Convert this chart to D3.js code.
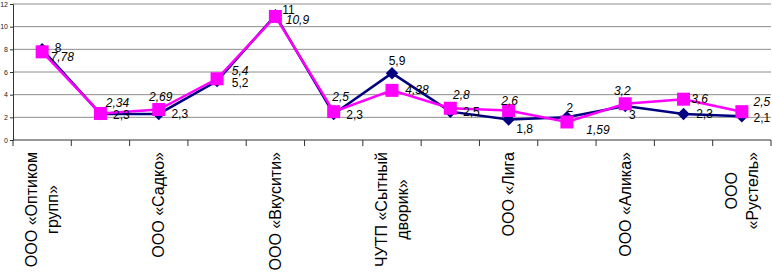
<!DOCTYPE html>
<html>
<head>
<meta charset="utf-8">
<script src="https://cdn.jsdelivr.net/npm/d3@7"></script>
<style>
body { margin: 0; background: #fff; }
svg { display: block; font-family: "Liberation Sans", Arial, sans-serif; }
</style>
</head>
<body>
<div id="chart"></div>
<script>
// company names, only every other one is printed on the axis
const categories = [
	["ООО «Оптиком", "групп»"], [],
	["ООО «Садко»"], [],
	["ООО «Вкусити»"], [],
	["ЧУТП «Сытный", "дворик»"], [],
	["ООО «Лига"], [],
	["ООО «Алика»"], [],
	["ООО", "«Рустель»"]
];
const series1 = [8, 2.3, 2.3, 5.2, 11, 2.3, 5.9, 2.5, 1.8, 2, 3, 2.3, 2.1];
const series2 = [7.78, 2.34, 2.69, 5.4, 10.9, 2.5, 4.38, 2.8, 2.6, 1.59, 3.2, 3.6, 2.5];
const yTicks = [0, 2, 4, 6, 8, 10, 12];

// label offsets (dx, dy of text centre from the point)
const pos1 = [[16,-1],[21,1],[21,0],[23,2],[13,-5],[21,1],[5,-12],[21,0],[16,9],[3,-9],[7,9],[21,0],[20,2]];
const pos2 = [[20,5],[17,-10],[2,-13],[23,-8],[22,4],[7,-15],[25,0],[11,-13],[1,-10],[31,8],[-3,-13],[16,0],[20,-10]];

const width = 772, height = 276;
const margin = {top: 4, right: 1, bottom: 136, left: 13};

const svg = d3.select("#chart").append("svg")
	.attr("width", width).attr("height", height);

const x = d3.scaleBand().domain(d3.range(categories.length))
	.range([margin.left, width - margin.right]);
const y = d3.scaleLinear().domain([0, 12])
	.range([height - margin.bottom, margin.top]);

// gridlines
svg.append("g").selectAll("line")
	.data(yTicks.filter(d => d > 0))
	.join("line")
	.attr("x1", margin.left).attr("x2", width - margin.right)
	.attr("y1", d => y(d)).attr("y2", d => y(d))
	.attr("stroke", "#8c8c8c").attr("stroke-width", 1);

// y axis
const yAxis = svg.append("g")
	.attr("transform", `translate(${margin.left},0)`)
	.call(d3.axisLeft(y).tickValues(yTicks).tickSize(3).tickPadding(2));
yAxis.select(".domain").attr("stroke", "#333");
yAxis.selectAll(".tick line").attr("stroke", "#333");
yAxis.selectAll("text").attr("font-size", 7).attr("fill", "#222")
	.attr("font-family", "Liberation Sans, Arial, sans-serif");

// x axis with ticks at category boundaries
const bounds = d3.range(categories.length + 1).map(i => margin.left + i * x.bandwidth());
svg.append("line")
	.attr("x1", margin.left).attr("x2", width - margin.right)
	.attr("y1", y(0)).attr("y2", y(0))
	.attr("stroke", "#333");
svg.append("g").selectAll("line")
	.data(bounds)
	.join("line")
	.attr("x1", d => d).attr("x2", d => d)
	.attr("y1", y(0)).attr("y2", y(0) + 6)
	.attr("stroke", "#333");

// category labels, rotated; block top-aligned, lines centred in it
const cx = i => x(i) + x.bandwidth() / 2;
const lab = svg.append("g").selectAll("text")
	.data(categories.map((c, i) => ({c, i})).filter(d => d.c.length))
	.join("text")
	.attr("transform", d => `translate(${cx(d.i)},${y(0) + 12}) rotate(-90)`)
	.attr("text-anchor", "middle")
	.attr("font-size", 16)
	.attr("fill", "#000");
lab.selectAll("tspan")
	.data(d => d.c.map((t, k) => ({t, k, n: d.c.length})))
	.join("tspan")
	.attr("y", d => 5.6 + (d.k - (d.n - 1) / 2) * 21)
	.text(d => d.t);
lab.each(function() {
	const spans = d3.select(this).selectAll("tspan");
	const maxLen = d3.max(spans.nodes(), n => n.getComputedTextLength());
	spans.attr("x", -maxLen / 2);
});

// lines and markers
const line = d3.line().x((d, i) => cx(i)).y(d => y(d));

svg.append("path").datum(series1)
	.attr("d", line).attr("fill", "none")
	.attr("stroke", "#000080").attr("stroke-width", 2.5);
svg.append("path").datum(series2)
	.attr("d", line).attr("fill", "none")
	.attr("stroke", "#ff00ff").attr("stroke-width", 2.5);

svg.append("g").selectAll("path")
	.data(series1)
	.join("path")
	.attr("d", d3.symbol(d3.symbolSquare, 78))
	.attr("transform", (d, i) => `translate(${cx(i)},${y(d)}) rotate(45)`)
	.attr("fill", "#000080");

svg.append("g").selectAll("rect")
	.data(series2)
	.join("rect")
	.attr("x", (d, i) => cx(i) - 6.5).attr("y", d => y(d) - 6.5)
	.attr("width", 13).attr("height", 13)
	.attr("fill", "#ff00ff");

// data labels
const fmt = v => String(v).replace(".", ",");
svg.append("g").selectAll("text")
	.data(series1)
	.join("text")
	.attr("x", (d, i) => cx(i) + pos1[i][0])
	.attr("y", (d, i) => y(d) + pos1[i][1])
	.attr("text-anchor", "middle").attr("dominant-baseline", "central")
	.attr("font-size", 12).attr("fill", "#000")
	.text(fmt);
svg.append("g").selectAll("text")
	.data(series2)
	.join("text")
	.attr("x", (d, i) => cx(i) + pos2[i][0])
	.attr("y", (d, i) => y(d) + pos2[i][1])
	.attr("text-anchor", "middle").attr("dominant-baseline", "central")
	.attr("font-size", 12).attr("font-style", "italic").attr("fill", "#000")
	.text(fmt);
</script>
</body>
</html>
